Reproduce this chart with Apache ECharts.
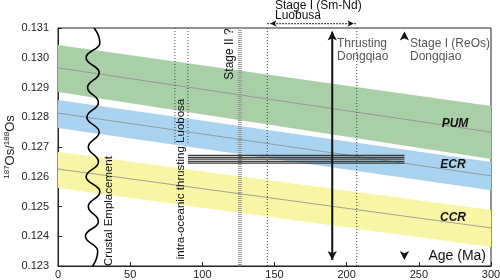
<!DOCTYPE html>
<html>
<head>
<meta charset="utf-8">
<script src="https://cdn.jsdelivr.net/npm/echarts@6/dist/echarts.min.js"></script>
<style>html,body{margin:0;padding:0;background:#fff}#main{width:500px;height:280px}</style>
</head>
<body>
<div id="main"></div>
<script>
// band end points (age in Ma, 187Os/188Os)
var bandAges = [0, 300];
var pumTop = [0.13043, 0.12838];
var pumMid = [0.12966, 0.12750];
var pumBot = [0.12885, 0.12660];
var ecrTop = [0.12858, 0.12650];
var ecrMid = [0.12814, 0.12603];
var ecrBot = [0.12764, 0.12555];
var ccrTop = [0.12683, 0.12488];
var ccrMid = [0.12626, 0.12428];
var ccrBot = [0.12562, 0.12364];

// crustal emplacement squiggle (turning points)
var waveVal = [0.1310, 0.1305, 0.1300, 0.1295, 0.1290, 0.1285, 0.1280, 0.1275, 0.1270, 0.1265, 0.1260, 0.1255, 0.1250, 0.1245, 0.1240, 0.1235, 0.1230];
var waveAge = [25, 29, 19.5, 28.5, 20.5, 28, 20, 28.5, 21, 28, 19.5, 29, 21, 28, 19, 27.5, 24];

// event ages
var thrustLuobusaAges = [81, 90];
var thrustLuobusaLow = 0.1271;
var stage2Age = 126;
var smNdAges = [145, 207];
var smNdLevel = 0.13115;
var smNdHeads = [147.2, 204.8];
var thrustDongqiaoAge = 190;
var reOsAge = 240;
var headTop = 0.13088;
var headBottom = 0.12320;

// horizontal bundle of measured values
var bundleAges = [90, 240];
var bundleValues = [0.12672, 0.12665, 0.12659, 0.12652, 0.12646];

var xTicks = [0, 50, 100, 150, 200, 250, 300];
var yMin = 0.123, yMax = 0.131;

var chart = echarts.init(document.getElementById('main'));
var font = 'Liberation Sans, Arial, sans-serif';

function band(top, bot, color) {
  return {
    type: 'custom', z: 1, silent: true,
    data: [[bandAges[0], top[0]]],
    renderItem: function (params, api) {
      var pts = [
        api.coord([bandAges[0], top[0]]),
        api.coord([bandAges[1], top[1]]),
        api.coord([bandAges[1], bot[1]]),
        api.coord([bandAges[0], bot[0]])
      ];
      return { type: 'polygon', shape: { points: pts }, style: { fill: color } };
    }
  };
}
function seg(x0, y0, x1, y1, style, z, clip) {
  return {
    type: 'line', z: z || 3, silent: true, symbol: 'none', clip: clip !== false,
    data: [[x0, y0], [x1, y1]], lineStyle: style
  };
}
var dotted = { color: '#444', width: 1, type: [1, 2] };
var midStyle = { color: '#8c8c8c', width: 0.8 };

var series = [
  band(pumTop, pumBot, '#a9cfa6'),
  band(ecrTop, ecrBot, '#a9d3ef'),
  band(ccrTop, ccrBot, '#f8f6a4'),
  seg(bandAges[0], pumMid[0], bandAges[1], pumMid[1], midStyle, 2),
  seg(bandAges[0], ecrMid[0], bandAges[1], ecrMid[1], midStyle, 2),
  seg(bandAges[0], ccrMid[0], bandAges[1], ccrMid[1], midStyle, 2),
  {
    type: 'line', z: 4, silent: true, symbol: 'none', smooth: true, smoothMonotone: 'y',
    data: waveAge.map(function (a, i) { return [a, waveVal[i]]; }),
    lineStyle: { color: '#000', width: 1.6 }
  }
];
thrustLuobusaAges.forEach(function (a) { series.push(seg(a, yMax, a, thrustLuobusaLow, dotted)); });
smNdAges.forEach(function (a) { series.push(seg(a, yMax, a, yMin, dotted)); });
series.push(seg(stage2Age, yMax, stage2Age, yMin, { color: '#999', width: 4, type: [1, 1] }));
series.push(seg(smNdAges[0], smNdLevel, smNdAges[1], smNdLevel, { color: '#222', width: 1.2, type: [1.5, 1.5] }, 5, false));
series.push(seg(thrustDongqiaoAge, headTop, thrustDongqiaoAge, headBottom, { color: '#111', width: 2 }, 6));
bundleValues.forEach(function (v) { series.push(seg(bundleAges[0], v, bundleAges[1], v, { color: '#3a3a3a', width: 1.3 }, 5)); });
series.push({
  type: 'scatter', z: 7, silent: true, clip: false, symbol: 'arrow', symbolSize: [7, 9],
  itemStyle: { color: '#111', opacity: 1 },
  data: [
    { value: [thrustDongqiaoAge, headTop] },
    { value: [reOsAge, headTop] },
    { value: [thrustDongqiaoAge, headBottom], symbolRotate: 180 },
    { value: [reOsAge, headBottom], symbolRotate: 180 },
    { value: [smNdHeads[0], smNdLevel], symbolRotate: 90, symbolSize: [5, 6] },
    { value: [smNdHeads[1], smNdLevel], symbolRotate: -90, symbolSize: [5, 6] }
  ]
});

function txt(str, x, y, opt) {
  opt = opt || {};
  return {
    type: 'text', x: x, y: y, rotation: opt.rot || 0, z: 20, silent: true,
    style: {
      text: str, fill: opt.color || '#111',
      fontStyle: opt.style || 'normal', fontWeight: opt.weight || 'normal',
      fontSize: opt.size || 12, fontFamily: font,
      align: opt.align || 'left', verticalAlign: 'middle'
    }
  };
}

chart.setOption({
  animation: false,
  grid: { left: 58, right: 9, top: 28, bottom: 14, show: true, borderColor: '#222', borderWidth: 1, outerBoundsMode: 'none', containLabel: false },
  xAxis: {
    type: 'value', min: xTicks[0], max: xTicks[xTicks.length - 1], interval: 50,
    splitLine: { show: false },
    axisLine: { lineStyle: { color: '#222' } },
    axisTick: { inside: true, length: 4, lineStyle: { color: '#222' } },
    axisLabel: { color: '#222', fontFamily: font, fontSize: 11, margin: 3 }
  },
  yAxis: {
    type: 'value', min: yMin, max: yMax, interval: 0.001,
    splitLine: { show: false },
    axisLine: { show: true, lineStyle: { color: '#222' } },
    axisTick: { show: true, inside: true, length: 4, lineStyle: { color: '#222' } },
    axisLabel: { color: '#222', fontFamily: font, fontSize: 11, margin: 9, formatter: function (v) { return v.toFixed(3); } },
    name: '{sup|187}{b|Os/}{sup|188}{b|Os}', nameLocation: 'middle', nameGap: 40, nameRotate: 90,
    nameMoveOverlap: false,
    nameTextStyle: {
      rich: {
        sup: { fontSize: 8, fontFamily: font, color: '#222', padding: [0, 0, 7, 0] },
        b: { fontSize: 13, fontFamily: font, color: '#222' }
      }
    }
  },
  series: series,
  graphic: [
    txt('Stage I (Sm-Nd)', 275, 6),
    txt('Luobusa', 275, 16),
    txt('Thrusting', 337, 44, { color: '#555' }),
    txt('Dongqiao', 337, 57, { color: '#555' }),
    txt('Stage I (ReOs)', 410, 44, { color: '#555' }),
    txt('Dongqiao', 410, 57, { color: '#555' }),
    txt('PUM', 455, 124, { weight: 'bold', style: 'italic', align: 'center' }),
    txt('ECR', 453, 165, { weight: 'bold', style: 'italic', align: 'center' }),
    txt('CCR', 453, 218, { weight: 'bold', style: 'italic', align: 'center' }),
    txt('Age (Ma)', 486, 256, { size: 14, align: 'right' }),
    txt('Crustal Emplacement', 109, 211, { size: 11.5, align: 'center', rot: Math.PI / 2 }),
    txt('intra-oceanic thrusting Luobosa', 181, 179, { size: 11.5, align: 'center', rot: Math.PI / 2 }),
    txt('Stage II ?', 230, 54, { size: 12, align: 'center', rot: Math.PI / 2 })
  ]
});
</script>
</body>
</html>
